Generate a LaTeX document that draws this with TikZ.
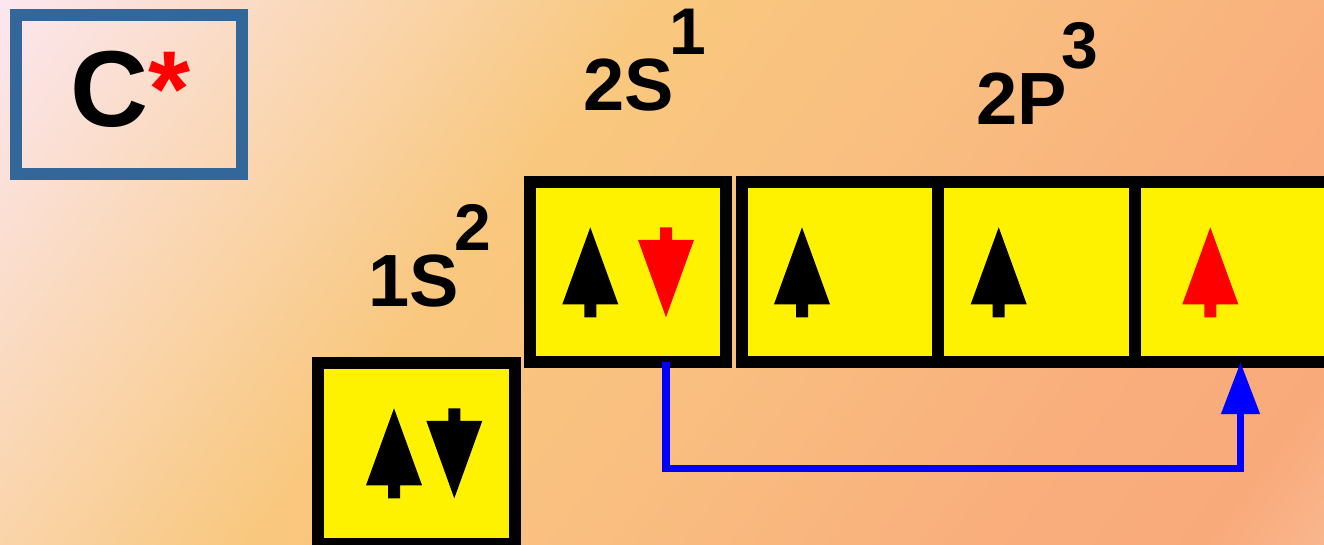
\documentclass[tikz,border=0pt]{standalone}
\usepackage{fontspec}
\setmainfont{Liberation Sans}
\usetikzlibrary{arrows.meta}
\definecolor{bgA}{RGB}{252,231,241}
\definecolor{bgB}{RGB}{250,218,192}
\definecolor{bgC}{RGB}{249,200,126}
\definecolor{bgD}{RGB}{249,190,128}
\definecolor{bgE}{RGB}{249,174,124}
\definecolor{bgF}{RGB}{249,170,123}
\definecolor{bgG}{RGB}{249,182,140}
\definecolor{cblue}{RGB}{51,102,153}
\pgfdeclarehorizontalshading{bgshade}{100bp}{color(0bp)=(bgA); color(25bp)=(bgA); color(33bp)=(bgB); color(44bp)=(bgC); color(54bp)=(bgD); color(65bp)=(bgE); color(71.5bp)=(bgF); color(75bp)=(bgG); color(100bp)=(bgG)}
\newcommand\supnum[1]{{\fontsize{66}{66}\selectfont\kern-5pt\raisebox{56pt}{#1}}}
\begin{document}
\begin{tikzpicture}[x=1pt,y=-1pt,
  orb/.style={draw=black, fill=yellow, line width=12pt, inner sep=0pt, outer sep=0pt,
    minimum width=196.5pt, minimum height=180.5pt},
  lab/.style={font=\bfseries\fontsize{74}{74}\selectfont, inner sep=0pt, outer sep=0pt, anchor=base west},
  conn/.style={draw=blue, line width=7.5pt, -{Triangle[width=37pt,length=52pt]}},
  spinup/.pic={\fill[#1] (0,0) -- (28,77) -- (6,77) -- (6,90) -- (-6,90) -- (-6,77) -- (-28,77) -- cycle;},
  spindown/.pic={\fill[#1] (-6,0) -- (6,0) -- (6,12.5) -- (28,12.5) -- (0,90) -- (-28,12.5) -- (-6,12.5) -- cycle;}
]
\useasboundingbox (0,0) rectangle (1324,544);
\begin{scope}
\clip (0,0) rectangle (1324,544);
\begin{scope}[transform canvas={rotate=-36.87}]
  \shade[shading=bgshade] (0,-800) rectangle (1386,440);
\end{scope}

% element box
\node[draw=cblue, line width=12pt, minimum width=226pt, minimum height=159pt, inner sep=0pt, outer sep=0pt] (elem) at (129,94.5) {};
\node[font=\bfseries\fontsize{108}{108}\selectfont, anchor=base, inner sep=0pt] (elemtxt) at (130.5,126) {C\textcolor{red}{*}};

% orbital boxes
\node[orb] (o1s) at (416.5,453.25) {};
\node[orb] (o2s) at (628,271.75) {};
\node[orb] (o2pa) at (840,271.75) {};
\node[orb] (o2pb) at (1036.5,271.75) {};
\node[orb] (o2pc) at (1233,271.75) {};

% electrons
\pic at (394,408.3) {spinup=black};
\pic at (454.3,408.3) {spindown=black};
\pic at (590.3,227.3) {spinup=black};
\pic at (666,227.3) {spindown=red};
\pic at (802,227.3) {spinup=black};
\pic at (998.7,227.3) {spinup=black};
\pic at (1210.3,227.3) {spinup=red};

% labels
\node[lab] (l1s) at (368.5,306.7) {1S\supnum{2}};
\node[lab] (l2s) at (583.5,110) {2S\supnum{1}};
\node[lab] (l2p) at (976,124.5) {2P\supnum{3}};

% excitation connector
\coordinate (bendA) at (666,468.5);
\coordinate (bendB) at (1240.5,468.5);
\draw[conn] (o2s.south -| bendA) -- (bendA) -- (bendB) -- (o2pc.south -| bendB);
\end{scope}
\end{tikzpicture}
\end{document}
